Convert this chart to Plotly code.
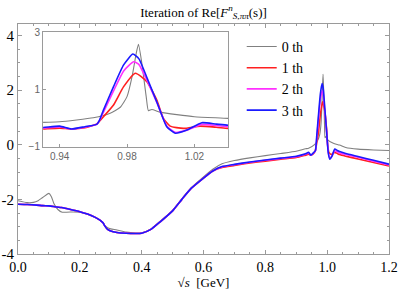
import plotly.graph_objects as go

# ---------------- data ----------------
x_common = [0.0, 0.03, 0.06, 0.08, 0.1, 0.115, 0.14, 0.17, 0.2, 0.225, 0.25, 0.265,
            0.275, 0.28, 0.29, 0.3, 0.32, 0.35, 0.38, 0.4, 0.43, 0.46, 0.5, 0.53,
            0.56, 0.6, 0.63, 0.66, 0.7, 0.75, 0.8, 0.85, 0.9, 0.93]
y_common_blue = [-2.18, -2.19, -2.21, -2.23, -2.24, -2.26, -2.30, -2.37, -2.45, -2.54,
                 -2.66, -2.76, -2.86, -2.96, -3.10, -3.16, -3.21, -3.24, -3.25, -3.24,
                 -3.10, -2.82, -2.42, -2.00, -1.60, -1.22, -0.96, -0.80, -0.72, -0.63,
                 -0.56, -0.49, -0.42, -0.33]

# 3rd iteration (blue)
x3 = x_common + [0.94, 0.947, 0.955, 0.962, 0.9635, 0.966, 0.972, 0.978, 0.9835, 0.987,
                 0.992, 0.998, 1.0036, 1.0086, 1.0155, 1.0244, 1.033, 1.04, 1.06, 1.1,
                 1.15, 1.2]
y3 = y_common_blue + [-0.28, -0.38, -0.30, -0.22, -0.10, 0.28, 1.10, 1.86, 2.24, 2.08,
                      1.39, 0.52, -0.30, -0.53, -0.42, -0.16, -0.21, -0.25, -0.32, -0.43,
                      -0.57, -0.71]

# 2nd iteration (magenta)
x2 = x_common + [0.94, 0.947, 0.955, 0.962, 0.9635, 0.966, 0.972, 0.978, 0.984, 0.987,
                 0.992, 0.998, 1.0036, 1.0086, 1.0155, 1.0244, 1.033, 1.04, 1.06, 1.1,
                 1.15, 1.2]
y2 = y_common_blue[:27] + [-0.81, -0.73, -0.64, -0.57, -0.50, -0.44, -0.35] + \
     [-0.31, -0.38, -0.32, -0.22, -0.10, 0.20, 0.95, 1.65, 1.97, 1.88,
      1.30, 0.50, -0.28, -0.50, -0.42, -0.22, -0.26, -0.30, -0.36, -0.46,
      -0.60, -0.74]

# 1st iteration (red)
x1 = x_common + [0.94, 0.947, 0.955, 0.962, 0.966, 0.972, 0.978, 0.985, 0.9918, 0.9977,
                 1.0016, 1.0056, 1.0135, 1.0234, 1.033, 1.04, 1.06, 1.1, 1.15, 1.2]
y1 = y_common_blue[:27] + [-0.83, -0.76, -0.67, -0.60, -0.53, -0.47, -0.38] + \
     [-0.35, -0.38, -0.34, -0.20, 0.05, 0.46, 1.10, 1.57, 1.27, 0.63,
      -0.01, -0.28, -0.36, -0.28, -0.32, -0.36, -0.42, -0.52, -0.65, -0.78]

# 0th iteration (gray)
x0 = [0.0, 0.03, 0.05, 0.065, 0.08, 0.1, 0.108, 0.116, 0.13, 0.143, 0.18, 0.2, 0.225,
      0.25, 0.265, 0.275, 0.28, 0.29, 0.3, 0.32, 0.35, 0.38, 0.4, 0.43, 0.46, 0.5, 0.53,
      0.56, 0.6, 0.63, 0.66, 0.7, 0.75, 0.8, 0.85, 0.9, 0.93, 0.94, 0.96, 0.97, 0.976,
      0.98, 0.983, 0.9855, 0.9868, 0.9888, 0.9914, 0.9927, 0.9947, 1.0, 1.02, 1.04,
      1.06, 1.1, 1.15, 1.2]
y0 = [-2.05, -2.12, -2.11, -2.05, -1.93, -1.78, -1.90, -2.15, -2.38, -2.47, -2.46, -2.47,
      -2.54, -2.66, -2.76, -2.85, -2.94, -3.04, -3.08, -3.12, -3.20, -3.23, -3.22, -3.08,
      -2.80, -2.40, -1.98, -1.58, -1.18, -0.90, -0.70, -0.58, -0.48, -0.40, -0.32, -0.24,
      -0.15, -0.13, 0.01, 0.17, 0.38, 0.75, 1.45, 2.27, 2.58, 1.92, 0.75, 0.26, 0.30,
      0.20, 0.05, -0.01, -0.10, -0.16, -0.19, -0.21]

series = [
    ("0 th", x0, y0, "#808080", 1.1),
    ("1 th", x1, y1, "#ff2020", 1.6),
    ("2 th", x2, y2, "#ff30ff", 1.6),
    ("3 th", x3, y3, "#1a1aff", 1.6),
]

x_ticks_main = [0.0, 0.2, 0.4, 0.6, 0.8, 1.0, 1.2]
x_ticklabels_main = ["0.0", "0.2", "0.4", "0.6", "0.8", "1.0", "1.2"]
y_ticks_main = [-4, -2, 0, 2, 4]
y_ticklabels_main = ["-4", "-2", "0", "2", "4"]
x_ticks_inset = [0.94, 0.98, 1.02]
x_ticklabels_inset = ["0.94", "0.98", "1.02"]
y_ticks_inset = [-1, 1, 3]

# ---------------- figure ----------------
fig = go.Figure()
for name, xs, ys, col, w in series:
    fig.add_trace(go.Scatter(x=xs, y=ys, mode="lines", name=name,
                             line=dict(color=col, width=w, shape="spline", smoothing=0.5),
                             xaxis="x", yaxis="y", showlegend=True))
for name, xs, ys, col, w in series:
    fig.add_trace(go.Scatter(x=xs, y=ys, mode="lines", name=name,
                             line=dict(color=col, width=w, shape="spline", smoothing=0.5),
                             xaxis="x2", yaxis="y2", showlegend=False))

serif = "Liberation Serif, Times New Roman, serif"
sans = "Liberation Sans, Arial, sans-serif"
frame = "#9a9a9a"

fig.update_layout(
    template="none",
    width=399, height=300,
    margin=dict(l=17.5, r=9.5, t=24, b=46, autoexpand=False),
    paper_bgcolor="white", plot_bgcolor="white",
    font=dict(family=serif, size=13, color="black"),
    title=dict(text="Iteration of Re[<i>F</i><sup><i>n</i></sup><sub><i>S</i>,<i>ππ</i></sub>(s)]",
               x=0.5, xref="paper", xanchor="center", y=0.96, yref="container",
               yanchor="middle", automargin=False,
               font=dict(family=serif, size=13, color="black")),
    xaxis=dict(domain=[0, 1], range=[0, 1.2], tickvals=x_ticks_main,
               ticktext=x_ticklabels_main, ticks="inside", ticklen=4, tickcolor=frame,
               showline=True, linecolor=frame, linewidth=1, mirror="ticks",
               showgrid=False, zeroline=False, ticklabeloverflow="allow", automargin=False,
               minor=dict(dtick=0.05, tick0=0, ticks="inside", ticklen=2, tickcolor=frame),
               tickfont=dict(family=serif, size=14),
               title=dict(text="√<i>s</i>  [GeV]", standoff=4,
                          font=dict(family=serif, size=13))),
    yaxis=dict(domain=[0, 1], range=[-4, 4.42], tickvals=y_ticks_main,
               ticktext=y_ticklabels_main, ticklabelstandoff=0,
               ticks="inside", ticklen=4, tickcolor=frame,
               showline=True, linecolor=frame, linewidth=1, mirror="ticks",
               showgrid=False, zeroline=False, ticklabeloverflow="allow", automargin=False,
               minor=dict(dtick=0.5, tick0=0, ticks="inside", ticklen=2, tickcolor=frame),
               tickfont=dict(family=serif, size=15)),
    xaxis2=dict(domain=[0.0677, 0.5667], range=[0.9302, 1.0401], anchor="y2",
                tickvals=x_ticks_inset, ticktext=x_ticklabels_inset,
                ticks="inside", ticklen=3, tickcolor=frame, automargin=False,
                showline=True, linecolor=frame, linewidth=1.2, mirror=True,
                showgrid=False, zeroline=False,
                tickfont=dict(family=sans, size=10, color="#666666")),
    yaxis2=dict(domain=[0.4665, 0.9639], range=[-1, 3], anchor="x2",
                tickvals=y_ticks_inset, ticks="inside", ticklen=3, tickcolor=frame,
                showline=True, linecolor=frame, linewidth=1.2, mirror=True,
                showgrid=False, zeroline=False, automargin=False,
                tickfont=dict(family=sans, size=10, color="#666666")),
    legend=dict(x=0.603, y=0.97, xanchor="left", yanchor="top",
                bgcolor="rgba(0,0,0,0)", font=dict(family=serif, size=14),
                itemwidth=30, tracegroupgap=0),
    showlegend=True,
)

fig.write_html("out.html", config={"displayModeBar": False},
               post_script="document.body.style.margin='0';document.body.style.overflow='hidden';")
